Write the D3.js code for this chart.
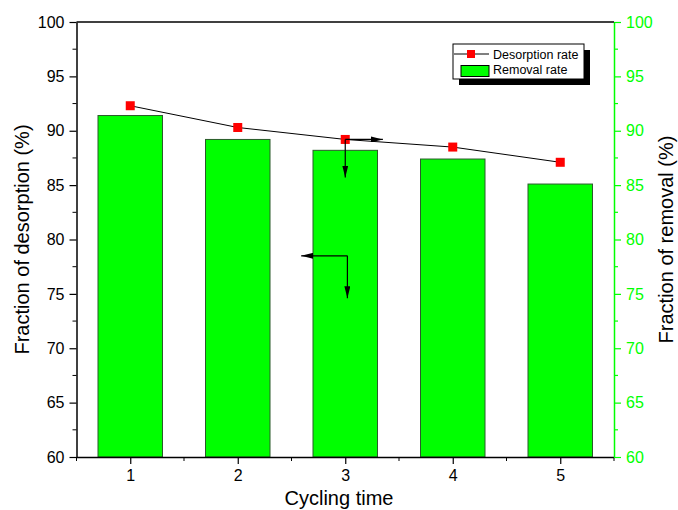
<!DOCTYPE html>
<html>
<head>
<meta charset="utf-8">
<script src="https://cdn.jsdelivr.net/npm/d3@7"></script>
<style>
  body { margin: 0; background: #fff; }
  svg { display: block; font-family: Arial, "Liberation Sans", sans-serif; }
</style>
</head>
<body>
<div id="chart"></div>
<script>
// data
const cycles = [1, 2, 3, 4, 5];
const removalRate = [91.4, 89.2, 88.2, 87.4, 85.1];
const desorptionRate = [92.3, 90.3, 89.2, 88.5, 87.1];
const yTicks = [60, 65, 70, 75, 80, 85, 90, 95, 100];
const yMinorTicks = [62.5, 67.5, 72.5, 77.5, 82.5, 87.5, 92.5, 97.5];
const xMinorTicks = [0.5, 1.5, 2.5, 3.5, 4.5, 5.5];
// annotation arrows, in data units [x0, y0, x1, y1]
const arrows = [
  [3, 89.2, 3.35, 89.2],
  [3, 89.2, 3, 85.7],
  [3.02, 78.5, 2.59, 78.5],
  [3.02, 78.5, 3.02, 74.6]
];

const width = 678;
const height = 510;
const margin = { top: 22, right: 64, bottom: 53, left: 76.5 };

const svg = d3.select("#chart")
  .append("svg")
  .attr("width", width)
  .attr("height", height);

const defs = svg.append("defs");
defs.append("marker")
  .attr("id", "head")
  .attr("viewBox", "0 0 12 6")
  .attr("refX", 12)
  .attr("refY", 3)
  .attr("markerWidth", 12)
  .attr("markerHeight", 6)
  .attr("markerUnits", "userSpaceOnUse")
  .attr("orient", "auto")
  .append("path")
  .attr("d", "M0,0 L12,3 L0,6 Z")
  .attr("fill", "#000");

// scales
const x = d3.scaleLinear()
  .domain([0.5, 5.5])
  .range([margin.left, width - margin.right]);

const y = d3.scaleLinear()
  .domain([60, 100])
  .range([height - margin.bottom, margin.top]);

const barW = x(1.3) - x(0.7);

// bars
svg.append("g")
  .selectAll("rect")
  .data(cycles)
  .join("rect")
  .attr("x", (d) => x(d) - barW / 2)
  .attr("y", (d, i) => y(removalRate[i]))
  .attr("width", barW)
  .attr("height", (d, i) => y(60) - y(removalRate[i]))
  .attr("fill", "#00ff00")
  .attr("stroke", "#2b5a2b")
  .attr("stroke-width", 1);

// desorption line + points
const line = d3.line()
  .x((d) => x(d))
  .y((d, i) => y(desorptionRate[i]));

svg.append("path")
  .datum(cycles)
  .attr("d", line)
  .attr("fill", "none")
  .attr("stroke", "#000")
  .attr("stroke-width", 1);

svg.append("g")
  .selectAll("rect")
  .data(cycles)
  .join("rect")
  .attr("x", (d) => x(d) - 4.5)
  .attr("y", (d, i) => y(desorptionRate[i]) - 4.5)
  .attr("width", 9)
  .attr("height", 9)
  .attr("fill", "#ff0000");

// arrows
svg.append("g")
  .selectAll("line")
  .data(arrows)
  .join("line")
  .attr("x1", (d) => x(d[0]))
  .attr("y1", (d) => y(d[1]))
  .attr("x2", (d) => x(d[2]))
  .attr("y2", (d) => y(d[3]))
  .attr("stroke", "#000")
  .attr("stroke-width", 1.2)
  .attr("marker-end", "url(#head)");

// axes
const bottom = svg.append("g")
  .attr("transform", `translate(0,${height - margin.bottom})`)
  .call(d3.axisBottom(x).tickValues(cycles).tickFormat(d3.format("d")).tickSizeInner(7).tickSizeOuter(0).tickPadding(6));
bottom.append("g")
  .selectAll("line")
  .data(xMinorTicks)
  .join("line")
  .attr("x1", (d) => x(d))
  .attr("x2", (d) => x(d))
  .attr("y1", 0)
  .attr("y2", 4)
  .attr("stroke", "#000");

const left = svg.append("g")
  .attr("transform", `translate(${margin.left},0)`)
  .call(d3.axisLeft(y).tickValues(yTicks).tickSizeInner(7).tickSizeOuter(0).tickPadding(5));
left.append("g")
  .selectAll("line")
  .data(yMinorTicks)
  .join("line")
  .attr("x1", 0)
  .attr("x2", -4)
  .attr("y1", (d) => y(d))
  .attr("y2", (d) => y(d))
  .attr("stroke", "#000");

const right = svg.append("g")
  .attr("transform", `translate(${width - margin.right},0)`)
  .call(d3.axisRight(y).tickValues(yTicks).tickSizeInner(7).tickSizeOuter(0).tickPadding(5));
right.append("g")
  .selectAll("line")
  .data(yMinorTicks)
  .join("line")
  .attr("x1", 0)
  .attr("x2", 4)
  .attr("y1", (d) => y(d))
  .attr("y2", (d) => y(d));

// top frame line
svg.append("line")
  .attr("x1", margin.left)
  .attr("x2", width - margin.right)
  .attr("y1", margin.top)
  .attr("y2", margin.top)
  .attr("stroke", "#000")
  .attr("stroke-width", 1.5);

[bottom, left].forEach((g) => {
  g.select(".domain").attr("stroke", "#000").attr("stroke-width", 1.5);
  g.selectAll(".tick line").attr("stroke", "#000").attr("stroke-width", 1.2);
  g.selectAll("text").attr("fill", "#000").style("font-size", "16px");
});
right.select(".domain").attr("stroke", "#00ff00").attr("stroke-width", 1.5);
right.selectAll("line").attr("stroke", "#00ff00").attr("stroke-width", 1.2);
right.selectAll("text").attr("fill", "#00ff00").style("font-size", "16px");

// axis titles
svg.append("text")
  .attr("x", 339)
  .attr("y", height - 5)
  .attr("text-anchor", "middle")
  .style("font-size", "20px")
  .text("Cycling time");

svg.append("text")
  .attr("transform", `translate(29,${(margin.top + height - margin.bottom) / 2}) rotate(-90)`)
  .attr("text-anchor", "middle")
  .style("font-size", "20px")
  .text("Fraction of desorption (%)");

svg.append("text")
  .attr("transform", `translate(673,${(margin.top + height - margin.bottom) / 2}) rotate(-90)`)
  .attr("text-anchor", "middle")
  .style("font-size", "20px")
  .text("Fraction of removal (%)");

// legend
const lg = svg.append("g").attr("transform", "translate(453,44)");
lg.append("rect")
  .attr("x", 6).attr("y", 6).attr("width", 131).attr("height", 35)
  .attr("fill", "#000");
lg.append("rect")
  .attr("x", 0).attr("y", 0).attr("width", 131).attr("height", 35)
  .attr("fill", "#fff").attr("stroke", "#000").attr("stroke-width", 1);
lg.append("line")
  .attr("x1", 1).attr("x2", 36).attr("y1", 10).attr("y2", 10)
  .attr("stroke", "#000");
lg.append("rect")
  .attr("x", 14).attr("y", 6).attr("width", 8).attr("height", 8)
  .attr("fill", "#ff0000");
lg.append("text")
  .attr("x", 40).attr("y", 14.5)
  .style("font-size", "12.5px")
  .text("Desorption rate");
lg.append("rect")
  .attr("x", 8).attr("y", 21.5).attr("width", 28).attr("height", 11)
  .attr("fill", "#00ff00").attr("stroke", "#000").attr("stroke-width", 1);
lg.append("text")
  .attr("x", 40).attr("y", 30)
  .style("font-size", "12.5px")
  .text("Removal rate");
</script>
</body>
</html>
